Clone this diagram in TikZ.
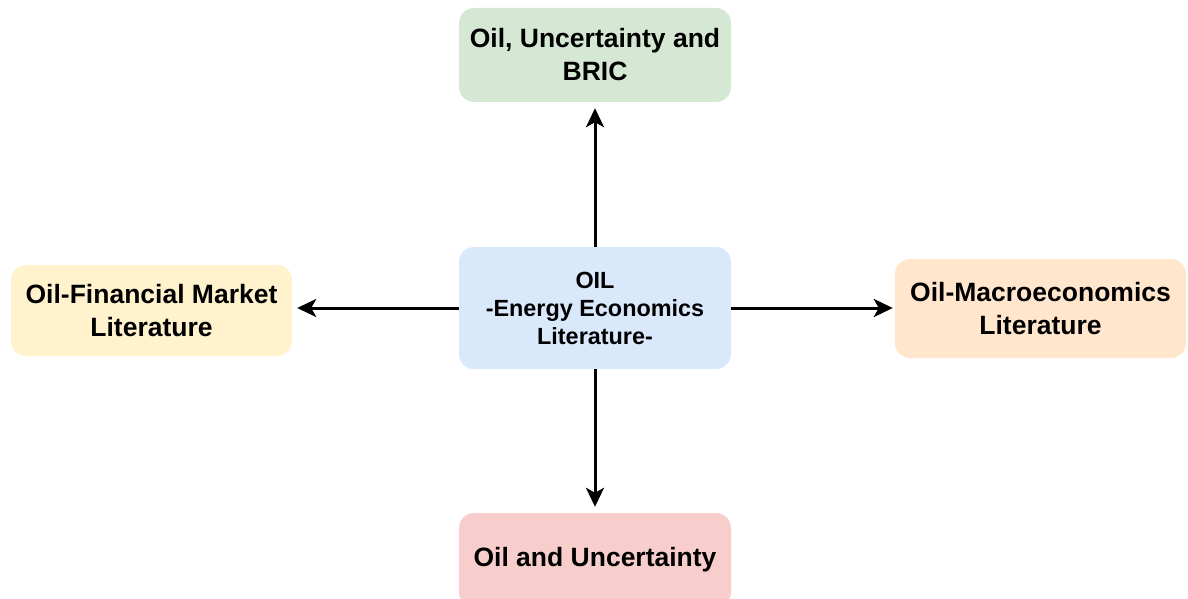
\documentclass[tikz,border=0pt]{standalone}
\usepackage{fontspec}
\setmainfont{Liberation Sans}
\usetikzlibrary{arrows.meta}
\definecolor{cgreen}{HTML}{D5E8D4}
\definecolor{cblue}{HTML}{DAE8FC}
\definecolor{cyellow}{HTML}{FFF2CC}
\definecolor{corange}{HTML}{FFE6CC}
\definecolor{cred}{HTML}{F8CECC}
\tikzset{
  box/.style={rounded corners=15pt, inner sep=0pt, align=center,
    font=\fontsize{26.5}{33}\selectfont\bfseries},
  link/.style={line width=3pt, -{Stealth[length=19pt,width=18pt,inset=5pt]}, shorten >=5pt}
}
\begin{document}
\begin{tikzpicture}[x=1pt,y=1pt]
\useasboundingbox (0,0) rectangle (1188,-599);
\begin{scope}
\clip (0,0) rectangle (1188,-599);
\node[box, fill=cgreen, minimum width=272pt, minimum height=94pt] (top) at (595,-55) {Oil, Uncertainty and\\BRIC};
\node[box, fill=cblue, minimum width=272pt, minimum height=122pt, font=\fontsize{23.4}{28}\selectfont\bfseries] (center) at (595,-308) {OIL\\-Energy Economics\\Literature-};
\node[box, fill=cyellow, minimum width=281pt, minimum height=91pt] (left) at (151.5,-310.5) {Oil-Financial Market\\Literature};
\node[box, fill=corange, minimum width=291pt, minimum height=99pt] (right) at (1040.5,-308.5) {Oil-Macroeconomics\\Literature};
\node[box, fill=cred, minimum width=272pt, minimum height=94pt] (bottom) at (595,-560) {Oil and Uncertainty};
\draw[link, shorten >=6pt] (center.north) -- (top.south);
\draw[link, shorten >=6pt] (center.south) -- (bottom.south |- bottom.north);
\draw[link] (center.west) -- (left.east |- center.west);
\draw[link, shorten >=2pt] (center.east) -- (right.west |- center.east);
\end{scope}
\end{tikzpicture}
\end{document}
